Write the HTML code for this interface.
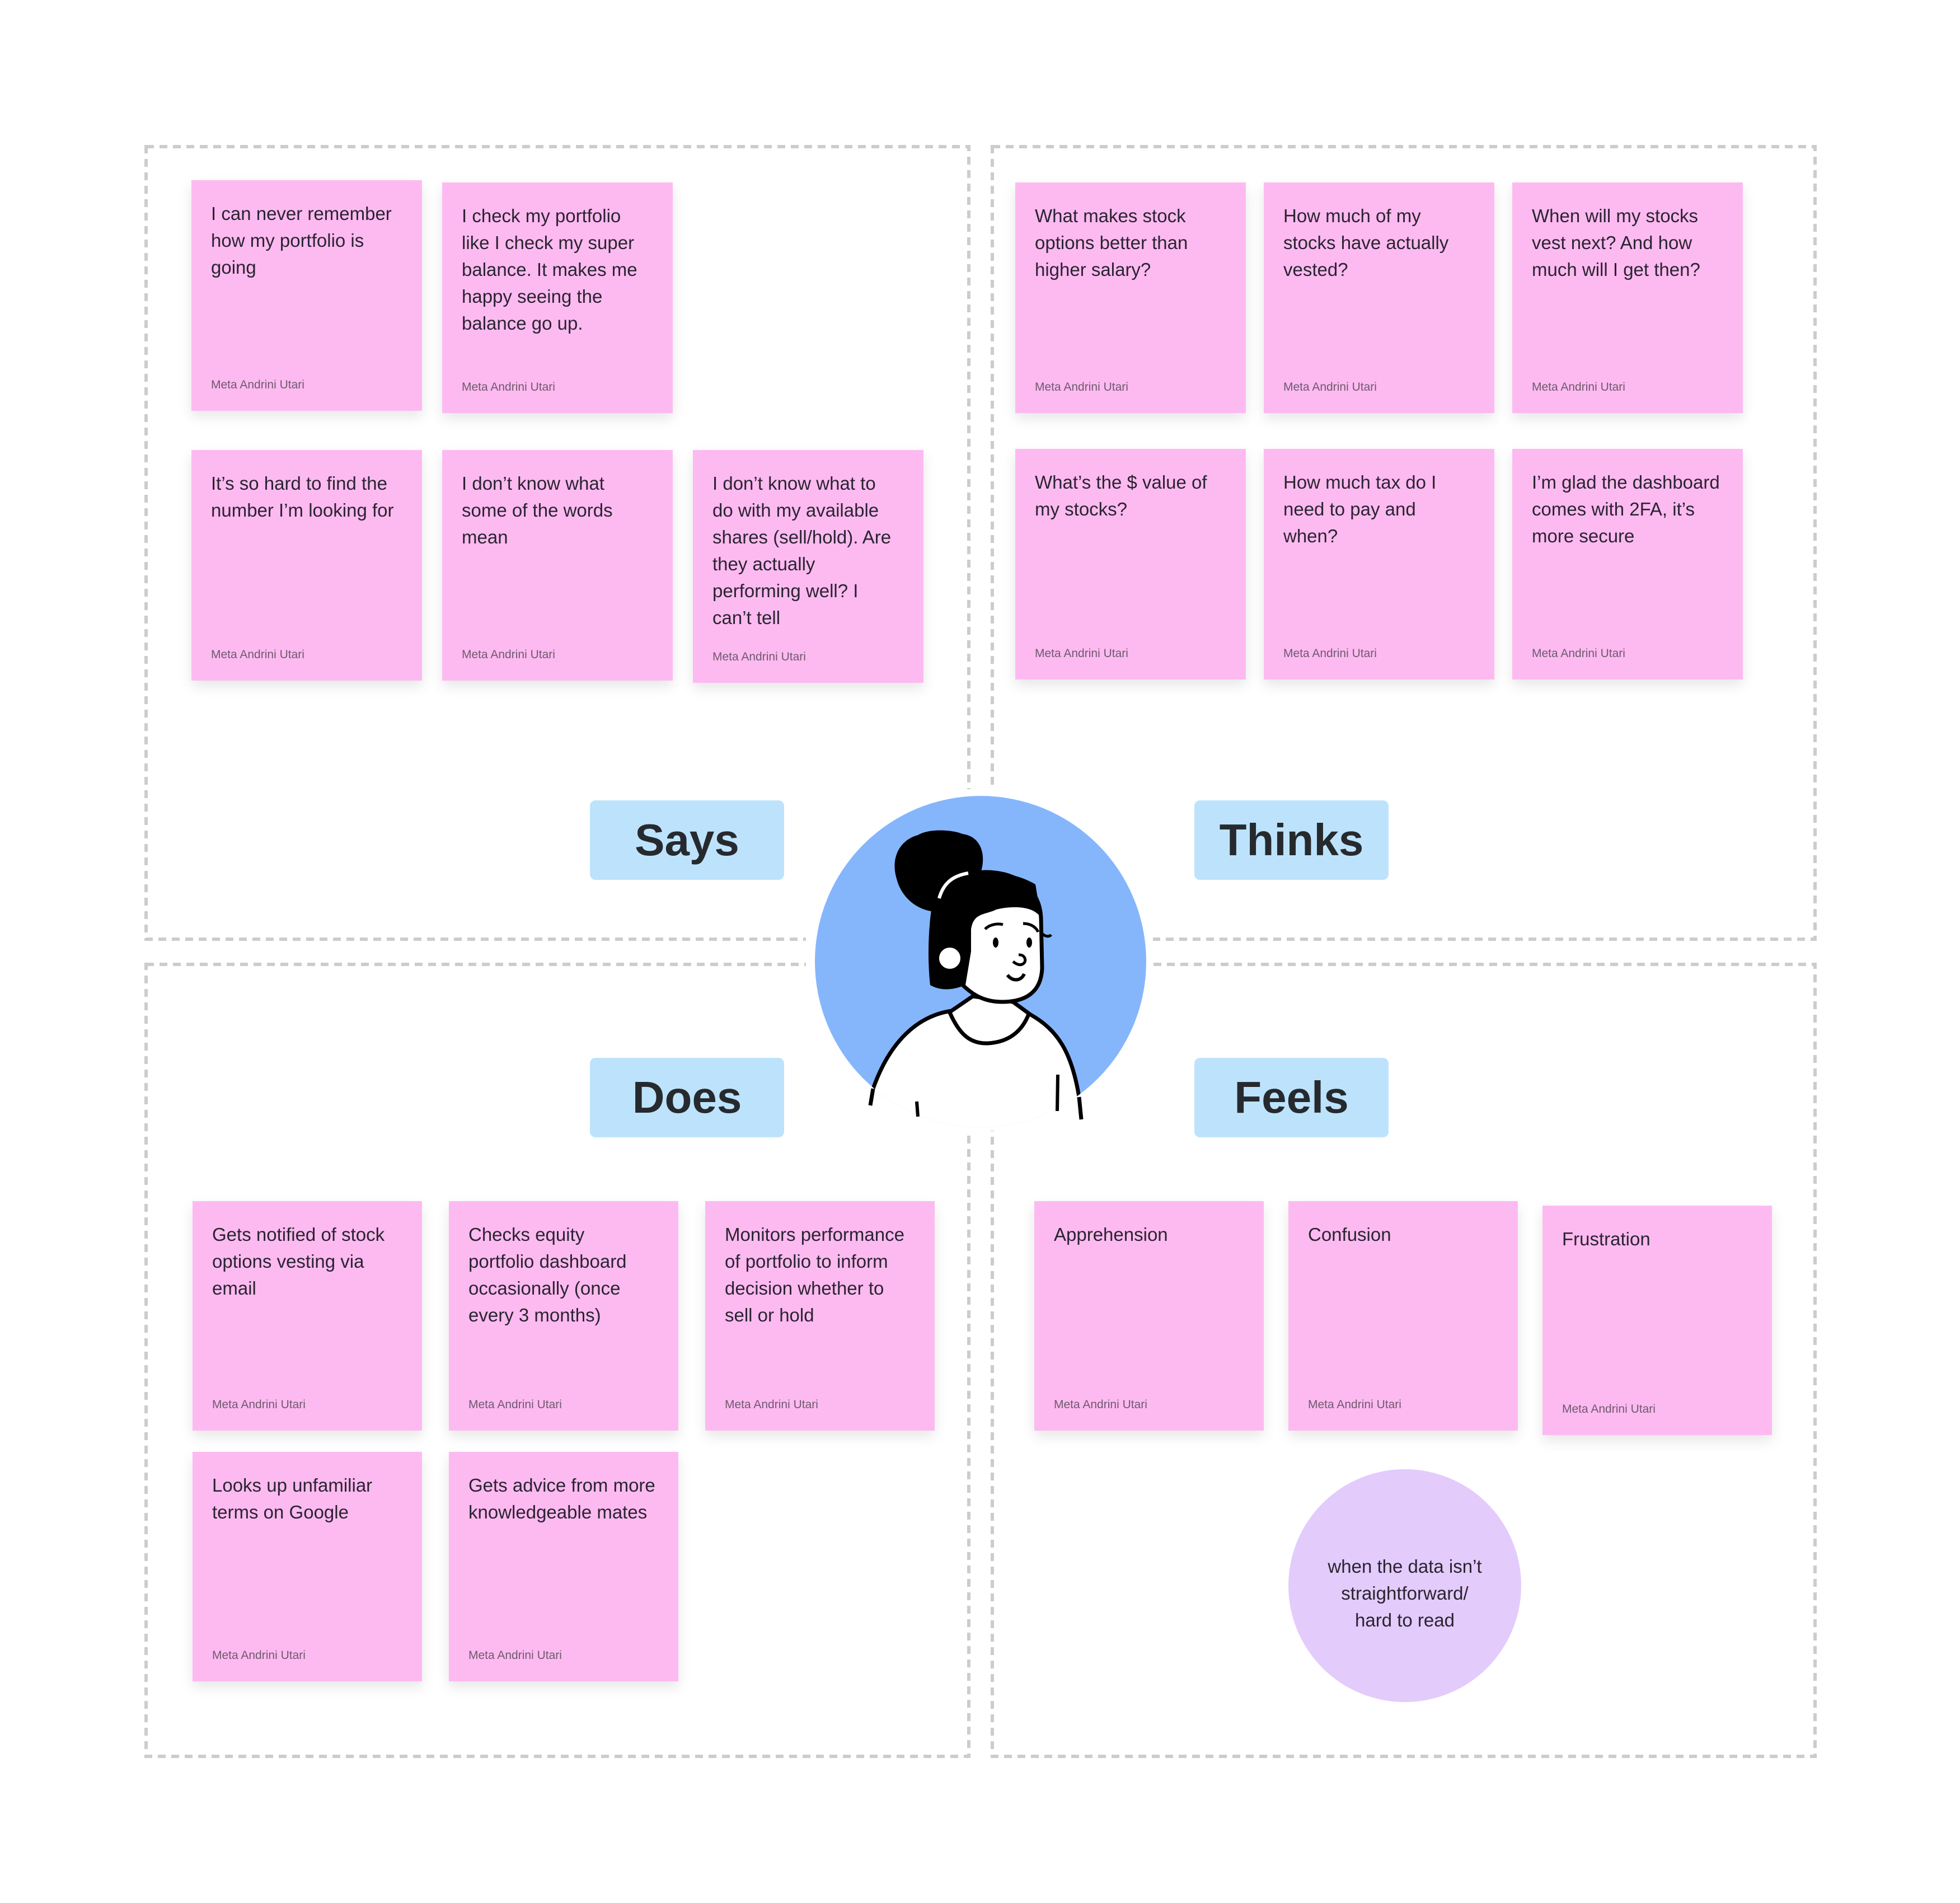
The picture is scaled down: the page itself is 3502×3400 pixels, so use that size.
<!DOCTYPE html>
<html><head><meta charset="utf-8"><style>
html,body{margin:0;padding:0;background:#fff;}
body{width:3502px;height:3400px;position:relative;overflow:hidden;font-family:"Liberation Sans",sans-serif;}
.s{position:absolute;width:412px;height:412px;background:#fdbaf1;box-shadow:0 10px 22px rgba(0,0,0,0.10);box-sizing:border-box;padding:36px 10px 0 35px;color:#2a2430;font-size:33px;line-height:48px;white-space:nowrap;}
.b{width:410px;height:410px;}
.s .a{position:absolute;left:35px;bottom:34px;font-size:21px;line-height:24px;color:#6e5a6c;}
.l{position:absolute;width:347px;height:142px;background:#bde3fc;border-radius:10px;color:#262a2e;font-weight:bold;font-size:80px;line-height:142px;text-align:center;}
svg{position:absolute;left:0;top:0;}
</style></head><body>
<svg width="3502" height="3400">
<g fill="none" stroke="#cccccc" stroke-width="6" stroke-dasharray="14 10">
<rect x="261" y="262" width="1470" height="1416"/>
<rect x="1773" y="262" width="1470" height="1416"/>
<rect x="261" y="1723" width="1470" height="1415"/>
<rect x="1773" y="1723" width="1470" height="1415"/>
</g>
<rect x="1440" y="1410" width="620" height="610" fill="#fff"/>
<defs><clipPath id="c"><circle cx="1752" cy="1718" r="296"/></clipPath></defs>
<circle cx="1752" cy="1718" r="296" fill="#85b6fc"/>
<g clip-path="url(#c)">
<path d="M1560,1945 C1590,1860 1640,1815 1700,1806 L1738,1780 L1810,1790 L1840,1812 C1890,1840 1915,1880 1928,1960 L1928,2030 L1560,2030 Z" fill="#fff" stroke="#000" stroke-width="7"/>
</g>
<path d="M1928,1960 L1932,2000" stroke="#000" stroke-width="7"/>
<path d="M1560,1945 L1555,1975" stroke="#000" stroke-width="7"/>
<path d="M1697,1809 C1715,1850 1735,1865 1765,1864 C1800,1862 1825,1845 1838,1812" fill="none" stroke="#000" stroke-width="7"/>
<path d="M1638,1968 L1640,1995 M1890,1920 L1889,1985" stroke="#000" stroke-width="6"/>
<path d="M1668,1640 C1665,1590 1700,1560 1760,1558 C1820,1558 1858,1590 1860,1640 L1862,1730 C1860,1775 1830,1790 1790,1790 C1750,1790 1730,1770 1710,1750 C1680,1720 1668,1690 1668,1640 Z" fill="#fff" stroke="#000" stroke-width="7"/>
<path d="M1662,1760 C1655,1700 1660,1600 1680,1575 C1700,1555 1790,1545 1850,1580 L1860,1640 C1845,1615 1800,1620 1780,1625 C1760,1635 1740,1630 1735,1660 L1735,1700 L1725,1760 C1700,1770 1680,1770 1662,1760 Z" fill="#000"/>
<path d="M1602,1570 C1590,1530 1610,1500 1640,1492 C1660,1480 1700,1482 1720,1490 C1755,1495 1762,1530 1752,1560 C1745,1600 1720,1620 1690,1628 C1650,1635 1612,1610 1602,1570 Z" fill="#000"/>
<path d="M1678,1605 C1685,1580 1700,1565 1730,1560" fill="none" stroke="#fff" stroke-width="6"/>
<circle cx="1697" cy="1712" r="22" fill="#fff" stroke="#000" stroke-width="6"/>
<ellipse cx="1779" cy="1684" rx="5" ry="9" fill="#000"/>
<ellipse cx="1839" cy="1684" rx="5" ry="9" fill="#000"/>
<path d="M1760,1660 C1770,1650 1785,1650 1792,1652 M1828,1650 C1840,1650 1850,1655 1855,1665 M1862,1668 C1868,1674 1875,1674 1878,1670" fill="none" stroke="#000" stroke-width="5"/>
<path d="M1820,1706 C1832,1705 1835,1718 1828,1722 C1822,1726 1815,1722 1810,1718" fill="none" stroke="#000" stroke-width="5"/>
<path d="M1800,1742 C1810,1755 1825,1752 1830,1740" fill="none" stroke="#000" stroke-width="6"/>
<circle cx="2510" cy="2833" r="208" fill="#e3cbfc"/>
<text x="2510" y="2810" font-family="Liberation Sans, sans-serif" font-size="33" fill="#2a2430" text-anchor="middle">when the data isn’t</text>
<text x="2510" y="2858" font-family="Liberation Sans, sans-serif" font-size="33" fill="#2a2430" text-anchor="middle">straightforward/</text>
<text x="2510" y="2906" font-family="Liberation Sans, sans-serif" font-size="33" fill="#2a2430" text-anchor="middle">hard to read</text>
</svg>

<div class="l" style="left:1054px;top:1430px;">Says</div>
<div class="l" style="left:2134px;top:1430px;">Thinks</div>
<div class="l" style="left:1054px;top:1890px;">Does</div>
<div class="l" style="left:2134px;top:1890px;">Feels</div>

<div class="s" style="left:342px;top:322px;">I can never remember<br>how my portfolio is<br>going<div class="a">Meta Andrini Utari</div></div>
<div class="s" style="left:790px;top:326px;">I check my portfolio<br>like I check my super<br>balance. It makes me<br>happy seeing the<br>balance go up.<div class="a">Meta Andrini Utari</div></div>
<div class="s" style="left:342px;top:804px;">It’s so hard to find the<br>number I’m looking for<div class="a">Meta Andrini Utari</div></div>
<div class="s" style="left:790px;top:804px;">I don’t know what<br>some of the words<br>mean<div class="a">Meta Andrini Utari</div></div>
<div class="s" style="left:1238px;top:804px;height:416px;">I don’t know what to<br>do with my available<br>shares (sell/hold). Are<br>they actually<br>performing well? I<br>can’t tell<div class="a">Meta Andrini Utari</div></div>

<div class="s" style="left:1814px;top:326px;">What makes stock<br>options better than<br>higher salary?<div class="a">Meta Andrini Utari</div></div>
<div class="s" style="left:2258px;top:326px;">How much of my<br>stocks have actually<br>vested?<div class="a">Meta Andrini Utari</div></div>
<div class="s" style="left:2702px;top:326px;">When will my stocks<br>vest next? And how<br>much will I get then?<div class="a">Meta Andrini Utari</div></div>
<div class="s" style="left:1814px;top:802px;">What’s the $ value of<br>my stocks?<div class="a">Meta Andrini Utari</div></div>
<div class="s" style="left:2258px;top:802px;">How much tax do I<br>need to pay and<br>when?<div class="a">Meta Andrini Utari</div></div>
<div class="s" style="left:2702px;top:802px;">I’m glad the dashboard<br>comes with 2FA, it’s<br>more secure<div class="a">Meta Andrini Utari</div></div>

<div class="s b" style="left:344px;top:2146px;">Gets notified of stock<br>options vesting via<br>email<div class="a">Meta Andrini Utari</div></div>
<div class="s b" style="left:802px;top:2146px;">Checks equity<br>portfolio dashboard<br>occasionally (once<br>every 3 months)<div class="a">Meta Andrini Utari</div></div>
<div class="s b" style="left:1260px;top:2146px;">Monitors performance<br>of portfolio to inform<br>decision whether to<br>sell or hold<div class="a">Meta Andrini Utari</div></div>
<div class="s b" style="left:344px;top:2594px;">Looks up unfamiliar<br>terms on Google<div class="a">Meta Andrini Utari</div></div>
<div class="s b" style="left:802px;top:2594px;">Gets advice from more<br>knowledgeable mates<div class="a">Meta Andrini Utari</div></div>

<div class="s b" style="left:1848px;top:2146px;">Apprehension<div class="a">Meta Andrini Utari</div></div>
<div class="s b" style="left:2302px;top:2146px;">Confusion<div class="a">Meta Andrini Utari</div></div>
<div class="s b" style="left:2756px;top:2154px;">Frustration<div class="a">Meta Andrini Utari</div></div>
</body></html>
